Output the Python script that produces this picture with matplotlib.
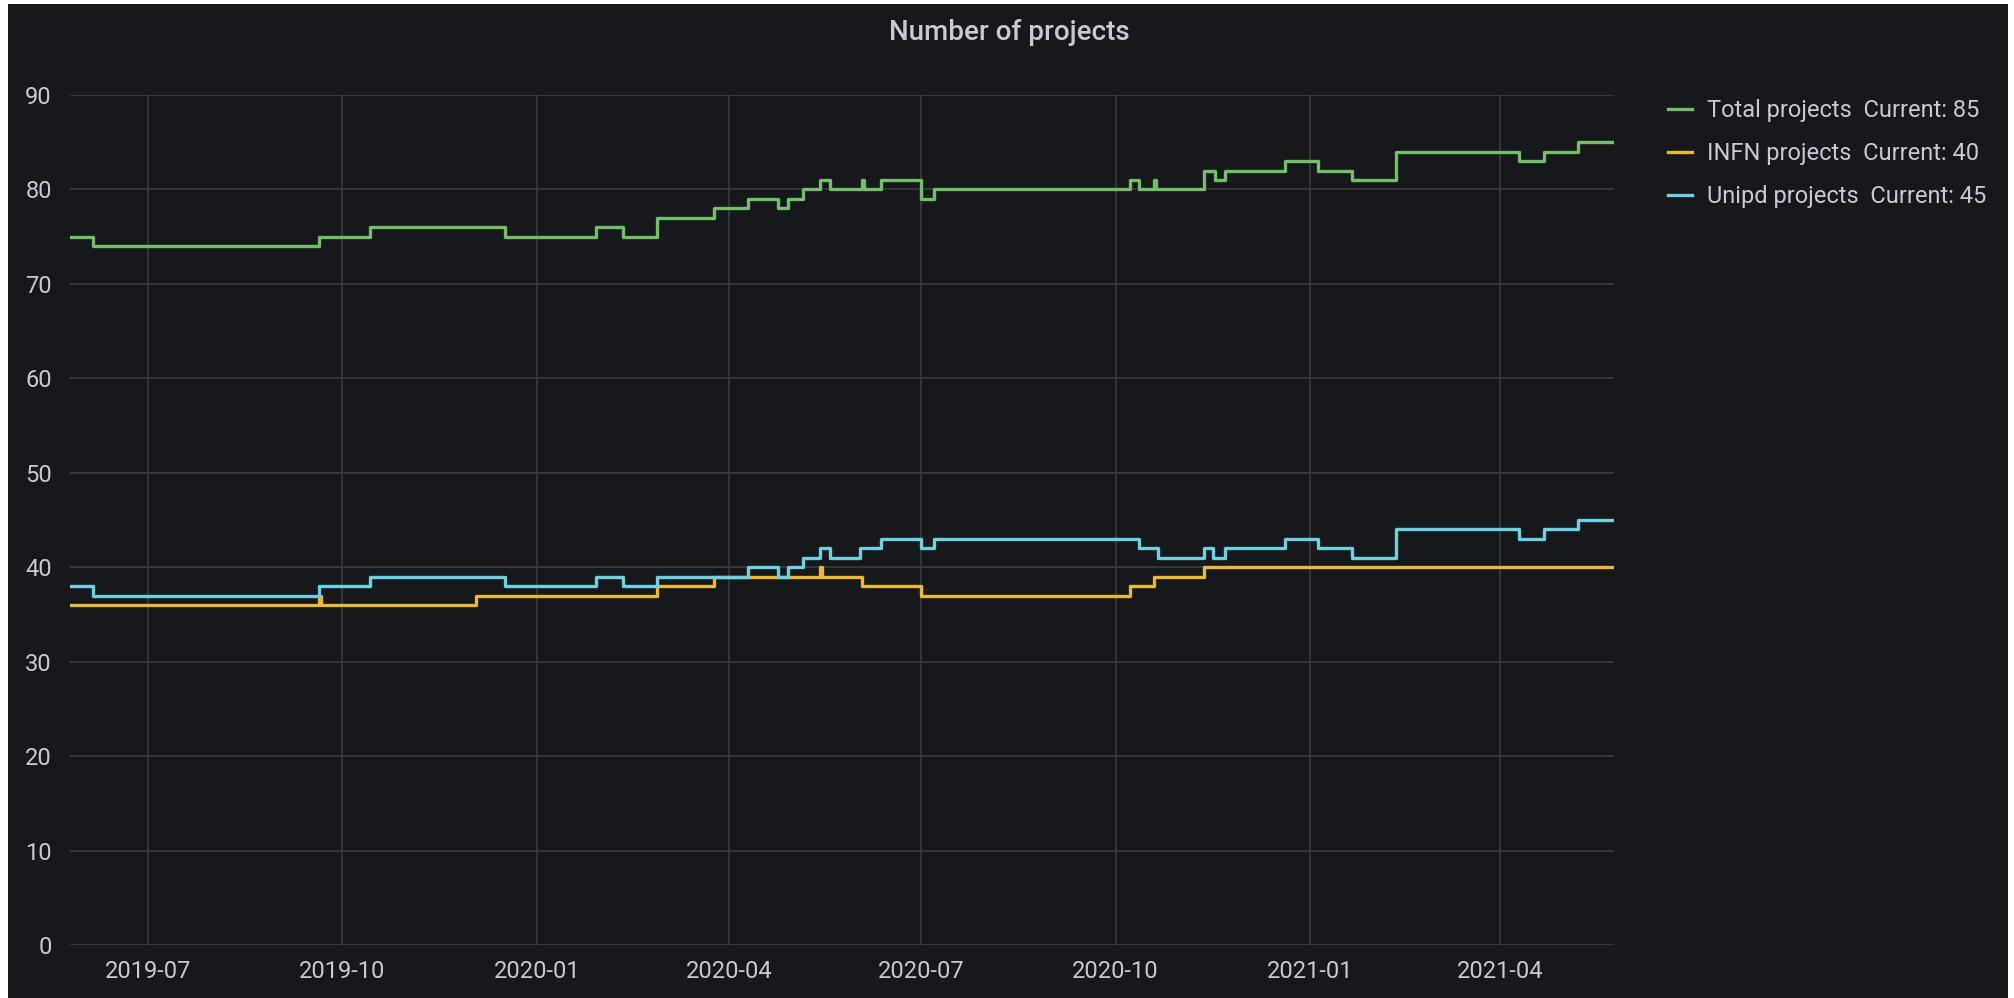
import matplotlib
matplotlib.use("Agg")
import matplotlib.pyplot as plt
import matplotlib.dates as mdates
import pandas as pd
from matplotlib.patches import Rectangle

# Dati (serie a gradini)
total_dates = ["2019-05-25", "2019-06-05", "2019-09-20", "2019-10-14", "2019-12-17",
               "2020-01-29", "2020-02-11", "2020-02-27", "2020-03-25", "2020-04-10",
               "2020-04-24", "2020-04-29", "2020-05-06", "2020-05-14", "2020-05-19",
               "2020-06-03", "2020-06-04", "2020-06-12", "2020-07-01", "2020-07-07",
               "2020-10-08", "2020-10-12", "2020-10-19", "2020-10-20", "2020-11-12",
               "2020-11-17", "2020-11-22", "2020-12-20", "2021-01-05", "2021-01-21",
               "2021-02-11", "2021-04-10", "2021-04-22", "2021-05-08", "2021-05-25"]
total_values = [75, 74, 75, 76, 75, 76, 75, 77, 78, 79, 78, 79, 80, 81, 80,
                81, 80, 81, 79, 80, 81, 80, 81, 80, 82, 81, 82, 83, 82, 81,
                84, 83, 84, 85, 85]

infn_dates = ["2019-05-25", "2019-09-20", "2019-09-21", "2019-12-03", "2020-02-27",
              "2020-03-25", "2020-05-14", "2020-05-15", "2020-06-03", "2020-07-01",
              "2020-10-08", "2020-10-19", "2020-11-12", "2021-05-25"]
infn_values = [36, 37, 36, 37, 38, 39, 40, 39, 38, 37, 38, 39, 40, 40]

unipd_dates = ["2019-05-25", "2019-06-05", "2019-09-20", "2019-10-14", "2019-12-17",
               "2020-01-29", "2020-02-11", "2020-02-27", "2020-04-10", "2020-04-24",
               "2020-04-29", "2020-05-06", "2020-05-14", "2020-05-19", "2020-06-02",
               "2020-06-12", "2020-07-01", "2020-07-07", "2020-10-12", "2020-10-21",
               "2020-11-12", "2020-11-16", "2020-11-22", "2020-12-20", "2021-01-05",
               "2021-01-21", "2021-02-11", "2021-04-10", "2021-04-22", "2021-05-08",
               "2021-05-25"]
unipd_values = [38, 37, 38, 39, 38, 39, 38, 39, 40, 39, 40, 41, 42, 41, 42,
                43, 42, 43, 42, 41, 42, 41, 42, 43, 42, 41, 44, 43, 44, 45, 45]

series_labels = ["Total projects  Current: 85",
                 "INFN projects  Current: 40",
                 "Unipd projects  Current: 45"]

BG = "#17181c"
TEXT = "#c7cad3"
GRID = "#393b40"

plt.rcParams['font.family'] = ['Roboto', 'DejaVu Sans']

fig = plt.figure(figsize=(20.15, 9.98), dpi=100, facecolor="white")
fig.patches.append(Rectangle((8 / 2015, 0), 2000 / 2015, 1 - 4 / 998,
                             transform=fig.transFigure, facecolor=BG,
                             edgecolor="none", zorder=-10))

ax = fig.add_axes([70 / 2015, 53 / 998, 1544 / 2015, 850 / 998])
ax.set_facecolor(BG)

ax.plot(pd.to_datetime(total_dates), total_values, drawstyle="steps-post",
        color="#73bf69", lw=2.4, label=series_labels[0])
ax.plot(pd.to_datetime(infn_dates), infn_values, drawstyle="steps-post",
        color="#eab839", lw=2.4, label=series_labels[1])
ax.plot(pd.to_datetime(unipd_dates), unipd_values, drawstyle="steps-post",
        color="#6ed0e0", lw=2.4, label=series_labels[2])

ax.set_xlim(pd.Timestamp("2019-05-25"), pd.Timestamp("2021-05-25"))
ax.set_ylim(0, 90)
ax.set_yticks(range(0, 91, 10))
ax.xaxis.set_major_locator(mdates.MonthLocator(bymonth=[1, 4, 7, 10]))
ax.xaxis.set_major_formatter(mdates.DateFormatter("%Y-%m"))

for s in ax.spines.values():
    s.set_visible(False)
ax.grid(True, color=GRID, lw=1.2)
ax.set_axisbelow(True)
ax.tick_params(axis="both", length=0, colors=TEXT, labelsize=17)
ax.tick_params(axis="y", pad=13)
ax.tick_params(axis="x", pad=11)

fig.text(1009 / 2015, 1 - 33 / 998, "Number of projects", color=TEXT,
         fontsize=20, fontweight="medium", ha="center", va="center")

fig.legend(loc="upper left", bbox_to_anchor=(1668 / 2015, 1 - 99 / 998),
           frameon=False, fontsize=17, labelcolor=TEXT, handlelength=1.0,
           handletextpad=0.65, labelspacing=0.85, borderpad=0, borderaxespad=0)

fig.savefig("out.png", dpi=100, facecolor=fig.get_facecolor())
